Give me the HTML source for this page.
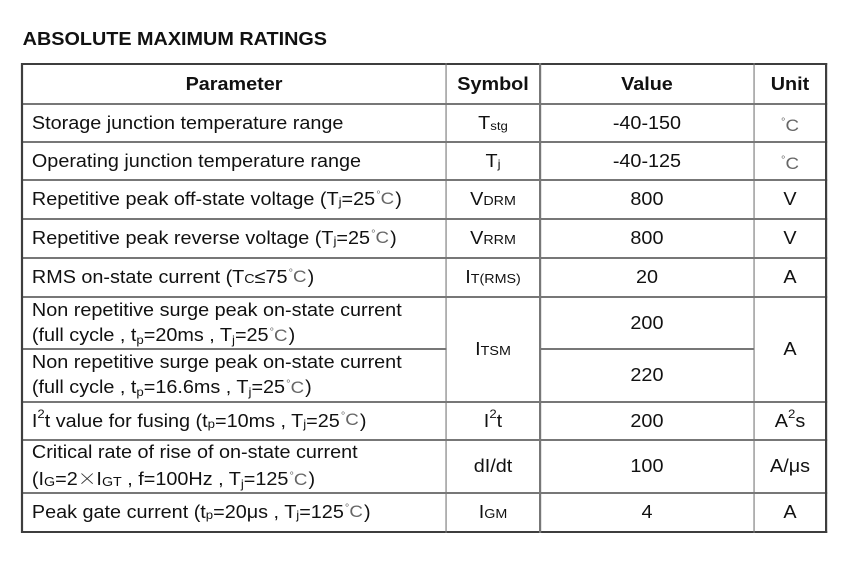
<!DOCTYPE html>
<html><head><meta charset="utf-8"><style>
html,body{margin:0;padding:0;background:#fff;}
body{width:849px;height:564px;overflow:hidden;position:relative;}
#w{position:absolute;left:0;top:0;width:772px;height:564px;transform:scaleX(1.1);transform-origin:0 0;
 font-family:"Liberation Sans","Noto Sans CJK SC",sans-serif;color:#111;font-size:18px;}
.t{position:absolute;left:20.6px;top:29.3px;font-weight:bold;font-size:18px;line-height:20px;white-space:nowrap;}
.h{position:absolute;background:#777;height:2px;}
.v{position:absolute;background:#777;width:1.8px;top:63px;height:470px;}
.o{background:#3e3e3e;}
.c{position:absolute;display:flex;align-items:center;justify-content:center;white-space:nowrap;line-height:25px;}
.l{justify-content:flex-start;padding-left:9px;box-sizing:border-box;}
.b{font-weight:bold;}
.s{font-size:12px;position:relative;top:3px;}
.sc{font-size:13px;position:relative;top:1px;}
.dc{color:#666;font-size:17px;margin:0 1px 0 1px;letter-spacing:0;}
.u{position:relative;top:4px;}
.dg{font-size:10px;position:relative;top:-6px;margin-right:0px;}
.x{font-family:"Noto Sans CJK SC",sans-serif;font-weight:300;color:#333;font-size:17px;}
.two{padding-top:2px;}
sup{font-size:12px;vertical-align:0;position:relative;top:-7px;}
</style></head><body>
<div id="w">
<div class="t">ABSOLUTE MAXIMUM RATINGS</div>

<!-- horizontal lines -->
<div class="h o" style="left:20px;width:731.8px;top:63px;"></div>
<div class="h" style="left:20px;width:731.8px;top:103px;"></div>
<div class="h" style="left:20px;width:731.8px;top:141px;"></div>
<div class="h" style="left:20px;width:731.8px;top:179px;"></div>
<div class="h" style="left:20px;width:731.8px;top:218px;"></div>
<div class="h" style="left:20px;width:731.8px;top:257px;"></div>
<div class="h" style="left:20px;width:731.8px;top:296px;"></div>
<div class="h" style="left:20px;width:385.5px;top:348px;"></div>
<div class="h" style="left:490.9px;width:194.5px;top:348px;"></div>
<div class="h" style="left:20px;width:731.8px;top:401px;"></div>
<div class="h" style="left:20px;width:731.8px;top:439px;"></div>
<div class="h" style="left:20px;width:731.8px;top:492px;"></div>
<div class="h o" style="left:20px;width:731.8px;top:531px;"></div>
<!-- vertical lines -->
<div class="v o" style="left:19.2px;"></div>
<div class="v" style="left:404.6px;"></div>
<div class="v" style="left:490px;"></div>
<div class="v" style="left:684.6px;"></div>
<div class="v o" style="left:750px;"></div>

<!-- header -->
<div class="c b" style="left:20px;width:385.5px;top:64px;height:40px;">Parameter</div>
<div class="c b" style="left:405.5px;width:85.4px;top:64px;height:40px;">Symbol</div>
<div class="c b" style="left:490.9px;width:194.5px;top:64px;height:40px;">Value</div>
<div class="c b" style="left:685.5px;width:65.4px;top:64px;height:40px;">Unit</div>

<!-- row 1 -->
<div class="c l" style="left:20px;width:385.5px;top:104px;height:38px;">Storage junction temperature range</div>
<div class="c" style="left:405.5px;width:85.4px;top:104px;height:38px;">T<span class="s">stg</span></div>
<div class="c" style="left:490.9px;width:194.5px;top:104px;height:38px;">-40-150</div>
<div class="c" style="left:685.5px;width:65.4px;top:104px;height:38px;"><span class="dc u"><span class="dg">°</span>C</span></div>

<!-- row 2 -->
<div class="c l" style="left:20px;width:385.5px;top:142px;height:38px;">Operating junction temperature range</div>
<div class="c" style="left:405.5px;width:85.4px;top:142px;height:38px;">T<span class="s">j</span></div>
<div class="c" style="left:490.9px;width:194.5px;top:142px;height:38px;">-40-125</div>
<div class="c" style="left:685.5px;width:65.4px;top:142px;height:38px;"><span class="dc u"><span class="dg">°</span>C</span></div>

<!-- row 3 -->
<div class="c l" style="left:20px;width:385.5px;top:180px;height:39px;">Repetitive peak off-state voltage (T<span class="s">j</span>=25<span class="dc"><span class="dg">°</span>C</span>)</div>
<div class="c" style="left:405.5px;width:85.4px;top:180px;height:39px;">V<span class="sc">DRM</span></div>
<div class="c" style="left:490.9px;width:194.5px;top:180px;height:39px;">800</div>
<div class="c" style="left:685.5px;width:65.4px;top:180px;height:39px;">V</div>

<!-- row 4 -->
<div class="c l" style="left:20px;width:385.5px;top:219px;height:39px;">Repetitive peak reverse voltage (T<span class="s">j</span>=25<span class="dc"><span class="dg">°</span>C</span>)</div>
<div class="c" style="left:405.5px;width:85.4px;top:219px;height:39px;">V<span class="sc">RRM</span></div>
<div class="c" style="left:490.9px;width:194.5px;top:219px;height:39px;">800</div>
<div class="c" style="left:685.5px;width:65.4px;top:219px;height:39px;">V</div>

<!-- row 5 -->
<div class="c l" style="left:20px;width:385.5px;top:258px;height:39px;">RMS on-state current (T<span class="sc">C</span>≤75<span class="dc"><span class="dg">°</span>C</span>)</div>
<div class="c" style="left:405.5px;width:85.4px;top:258px;height:39px;">I<span class="sc">T(RMS)</span></div>
<div class="c" style="left:490.9px;width:194.5px;top:258px;height:39px;">20</div>
<div class="c" style="left:685.5px;width:65.4px;top:258px;height:39px;">A</div>

<!-- row 6/7 -->
<div class="c l two" style="left:20px;width:385.5px;top:297px;height:52px;"><div>Non repetitive surge peak on-state current<br>(full cycle , t<span class="s">p</span>=20ms , T<span class="s">j</span>=25<span class="dc"><span class="dg">°</span>C</span>)</div></div>
<div class="c l two" style="left:20px;width:385.5px;top:349px;height:53px;"><div>Non repetitive surge peak on-state current<br>(full cycle , t<span class="s">p</span>=16.6ms , T<span class="s">j</span>=25<span class="dc"><span class="dg">°</span>C</span>)</div></div>
<div class="c" style="left:405.5px;width:85.4px;top:297px;height:105px;">I<span class="sc">TSM</span></div>
<div class="c" style="left:490.9px;width:194.5px;top:297px;height:52px;">200</div>
<div class="c" style="left:490.9px;width:194.5px;top:349px;height:53px;">220</div>
<div class="c" style="left:685.5px;width:65.4px;top:297px;height:105px;">A</div>

<!-- row 8 -->
<div class="c l" style="left:20px;width:385.5px;top:402px;height:38px;">I<sup>2</sup>t value for fusing (t<span class="s">p</span>=10ms , T<span class="s">j</span>=25<span class="dc"><span class="dg">°</span>C</span>)</div>
<div class="c" style="left:405.5px;width:85.4px;top:402px;height:38px;">I<sup>2</sup>t</div>
<div class="c" style="left:490.9px;width:194.5px;top:402px;height:38px;">200</div>
<div class="c" style="left:685.5px;width:65.4px;top:402px;height:38px;">A<sup>2</sup>s</div>

<!-- row 9 -->
<div class="c l two" style="left:20px;width:385.5px;top:440px;height:53px;"><div>Critical rate of rise of on-state current<br>(I<span class="sc">G</span>=2<span class="x">×</span>I<span class="sc">GT</span> , f=100Hz , T<span class="s">j</span>=125<span class="dc"><span class="dg">°</span>C</span>)</div></div>
<div class="c" style="left:405.5px;width:85.4px;top:440px;height:53px;">dI/dt</div>
<div class="c" style="left:490.9px;width:194.5px;top:440px;height:53px;">100</div>
<div class="c" style="left:685.5px;width:65.4px;top:440px;height:53px;">A/μs</div>

<!-- row 10 -->
<div class="c l" style="left:20px;width:385.5px;top:493px;height:39px;">Peak gate current (t<span class="s">p</span>=20μs , T<span class="s">j</span>=125<span class="dc"><span class="dg">°</span>C</span>)</div>
<div class="c" style="left:405.5px;width:85.4px;top:493px;height:39px;">I<span class="sc">GM</span></div>
<div class="c" style="left:490.9px;width:194.5px;top:493px;height:39px;">4</div>
<div class="c" style="left:685.5px;width:65.4px;top:493px;height:39px;">A</div>
</div>
</body></html>
